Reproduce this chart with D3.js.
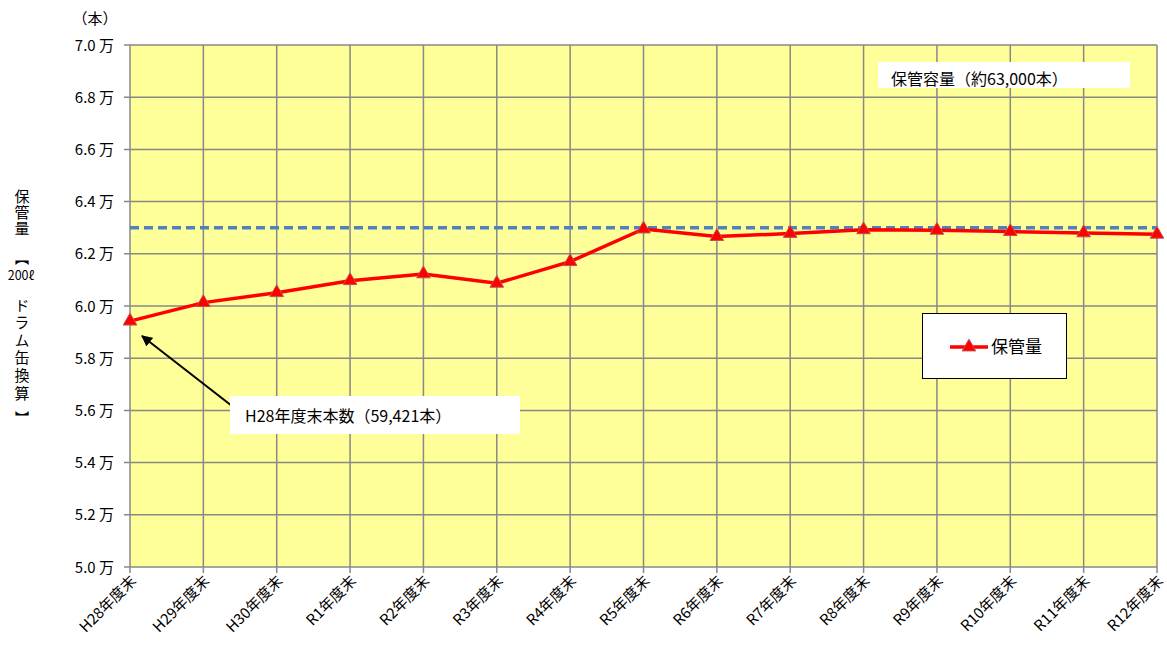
<!DOCTYPE html>
<html><head><meta charset="utf-8">
<script src="https://cdn.jsdelivr.net/npm/d3@7"></script>
<style>
body{margin:0;background:#fff;}
svg text{font-family:"Noto Sans CJK JP","Noto Sans",sans-serif;fill:#000;}
.vt{writing-mode:vertical-rl;}
</style></head>
<body><svg id="c" width="1167" height="646"></svg>
<script>
const categories = ["H28年度末","H29年度末","H30年度末","R1年度末","R2年度末","R3年度末","R4年度末","R5年度末","R6年度末","R7年度末","R8年度末","R9年度末","R10年度末","R11年度末","R12年度末"];
const storage = [59421,60130,60510,60970,61230,60870,61700,62950,62660,62780,62920,62900,62850,62800,62750];
const capacity = 63000;
const yTicks = [50000,52000,54000,56000,58000,60000,62000,64000,66000,68000,70000];
const seriesName = "保管量";
const capacityLabel = "保管容量（約63,000本）";
const noteLabel = "H28年度末本数（59,421本）";
const unitLabel = "（本）";
const yTitleParts = ["保管量","【","200ℓ","ドラム缶換算","】"];

const svg = d3.select("#c");
const L=130,R=1157,T=45,B=567;
const x = d3.scalePoint().domain(categories).range([L,R]).padding(0);
const y = d3.scaleLinear().domain([50000,70000]).range([B,T]);

svg.append("rect").attr("x",L).attr("y",T).attr("width",R-L).attr("height",B-T).attr("fill","#FFFF99");

const gridCol="#888888";
svg.append("g").selectAll("line").data(yTicks).join("line")
  .attr("x1",L-6).attr("x2",R).attr("y1",d=>y(d)).attr("y2",d=>y(d))
  .attr("stroke",gridCol).attr("stroke-width",1.5);
svg.append("g").selectAll("line").data(categories).join("line")
  .attr("x1",d=>x(d)).attr("x2",d=>x(d)).attr("y1",T).attr("y2",B+6)
  .attr("stroke",gridCol).attr("stroke-width",1.5);

svg.append("g").selectAll("text").data(yTicks).join("text")
  .attr("x",L-16).attr("y",d=>y(d)+5.5).attr("text-anchor","end")
  .attr("font-size",15).text(d=>d3.format(".1f")(d/10000)+" 万");
svg.append("text").attr("x",95).attr("y",24).attr("text-anchor","middle").attr("font-size",15).text(unitLabel);

svg.append("g").selectAll("text").data(categories).join("text")
  .attr("transform",d=>`translate(${x(d)+7},${B+15}) rotate(-45)`)
  .attr("text-anchor","end").attr("font-size",15).text(d=>d);

// y title (vertical writing)
const yt = svg.append("g");
yt.append("text").attr("class","vt").attr("x",22).attr("y",188.5).attr("font-size",15).attr("letter-spacing",1).text(yTitleParts[0]);
yt.append("text").attr("class","vt").attr("x",22).attr("y",251).attr("font-size",14).attr("font-weight","bold").text(yTitleParts[1]);
yt.append("text").attr("x",21).attr("y",279.5).attr("text-anchor","middle").attr("font-size",12.5).text(yTitleParts[2]);
yt.append("text").attr("class","vt").attr("x",22).attr("y",297.5).attr("font-size",15).attr("letter-spacing",2.6).text(yTitleParts[3]);
yt.append("text").attr("class","vt").attr("x",22).attr("y",411).attr("font-size",14).attr("font-weight","bold").text(yTitleParts[4]);

svg.append("line").attr("x1",L).attr("x2",R).attr("y1",y(capacity)).attr("y2",y(capacity))
  .attr("stroke","#4F81BD").attr("stroke-width",3.5).attr("stroke-dasharray","9,5");

svg.append("path").datum(storage).attr("fill","none").attr("stroke","#FF0000").attr("stroke-width",3.5)
  .attr("d",d3.line().x((d,i)=>x(categories[i])).y(d=>y(d)));
const tri = d3.symbol().type(d3.symbolTriangle).size(80);
svg.append("g").selectAll("path").data(storage).join("path")
  .attr("transform",(d,i)=>`translate(${x(categories[i])},${y(d)})`)
  .attr("d",tri).attr("fill","#FF0000").attr("stroke","#C0504D").attr("stroke-width",1);

svg.append("rect").attr("x",878).attr("y",62).attr("width",252).attr("height",26).attr("fill","#fff");
svg.append("text").attr("x",891).attr("y",85).attr("font-size",16).text(capacityLabel);

svg.append("rect").attr("x",922.5).attr("y",313.5).attr("width",144).attr("height",65).attr("fill","#fff").attr("stroke","#000").attr("stroke-width",1);
svg.append("line").attr("x1",950).attr("x2",988).attr("y1",347).attr("y2",347).attr("stroke","#FF0000").attr("stroke-width",3.5);
svg.append("path").attr("transform","translate(969,347)").attr("d",tri).attr("fill","#FF0000").attr("stroke","#C0504D");
svg.append("text").attr("x",991).attr("y",353).attr("font-size",17).text(seriesName);

svg.append("defs").append("marker").attr("id","ah").attr("viewBox","0 0 10 10").attr("refX",9).attr("refY",5)
  .attr("markerWidth",5.5).attr("markerHeight",5.5).attr("orient","auto")
  .append("path").attr("d","M0,0L10,5L0,10z").attr("fill","#000");
svg.append("line").attr("x1",232).attr("y1",406).attr("x2",142).attr("y2",336)
  .attr("stroke","#000").attr("stroke-width",2).attr("marker-end","url(#ah)");
svg.append("rect").attr("x",230).attr("y",396).attr("width",290).attr("height",38).attr("fill","#fff");
svg.append("text").attr("x",245).attr("y",422).attr("font-size",16).text(noteLabel);
</script></body></html>
